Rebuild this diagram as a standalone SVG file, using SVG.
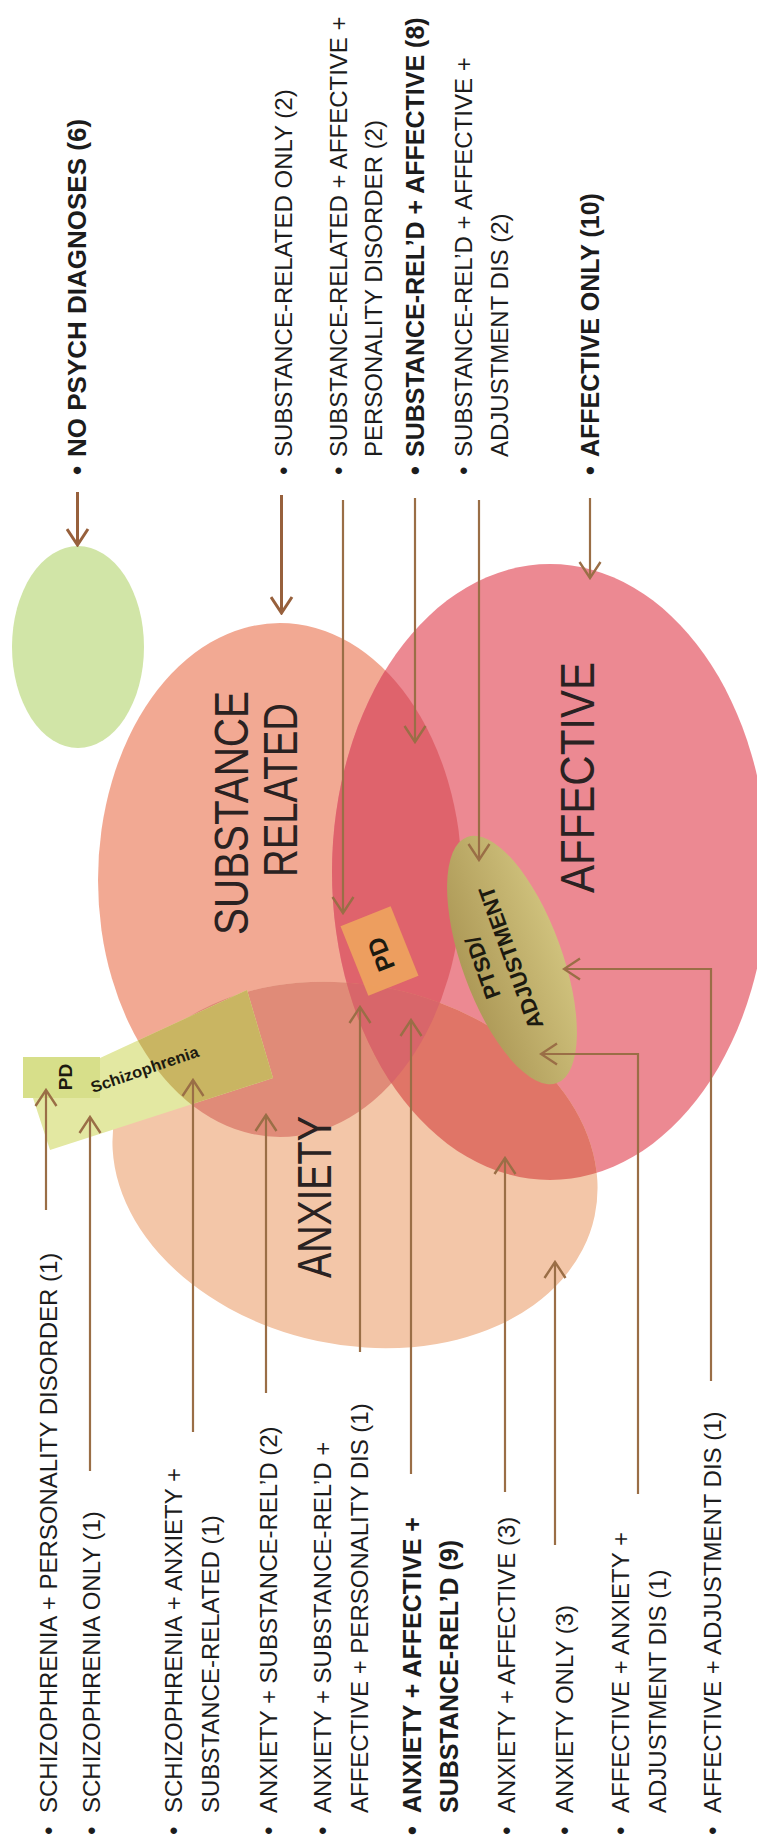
<svg xmlns="http://www.w3.org/2000/svg" width="757" height="1845" viewBox="0 0 757 1845">
<defs>
<style>
.t{font-family:"Liberation Sans",Arial,sans-serif;font-size:24px;fill:#1c1c1c}
.b{font-weight:bold;font-size:25px}
.lab{font-family:"Liberation Sans",Arial,sans-serif;font-size:48px;fill:#2a2222}
.sm{font-family:"Liberation Sans",Arial,sans-serif;font-weight:bold;fill:#1c1a10}
.ln{fill:none;stroke:#9a6e46;stroke-width:2.2}
.lnb{fill:none;stroke:#97603c;stroke-width:3}
</style>
<marker id="ah" viewBox="0 0 20 24" refX="18" refY="12" markerWidth="20" markerHeight="24" markerUnits="userSpaceOnUse" orient="auto">
<path d="M2,1.5 L18,12 L2,22.5" fill="none" stroke="#9a6e46" stroke-width="2.4"/>
</marker>
<marker id="ahb" viewBox="0 0 20 24" refX="18" refY="12" markerWidth="20" markerHeight="24" markerUnits="userSpaceOnUse" orient="auto">
<path d="M2,1.5 L18,12 L2,22.5" fill="none" stroke="#97603c" stroke-width="3"/>
</marker>
<linearGradient id="gp" x1="0" y1="0" x2="1" y2="0">
<stop offset="0" stop-color="#ae9a58"/>
<stop offset="1" stop-color="#cfc17c"/>
</linearGradient>
<ellipse id="eS" cx="280" cy="880" rx="182" ry="257"/>
<ellipse id="eA" cx="550" cy="872" rx="218" ry="308"/>
<ellipse id="eX" cx="355" cy="1165" rx="245" ry="180" transform="rotate(12 355 1165)"/>
<clipPath id="cS"><use href="#eS"/></clipPath>
<clipPath id="cA"><use href="#eA"/></clipPath>
</defs>
<rect width="757" height="1845" fill="#ffffff"/>

<g id="no-psych">
<ellipse cx="78" cy="647" rx="66" ry="101" fill="#d1e5a7"/>
</g>
<g id="substance">
<use href="#eS" fill="#f2a993"/>
</g>
<g id="affective">
<use href="#eA" fill="#ec8992"/>
</g>
<g id="anxiety">
<use href="#eX" fill="#f3c6a8"/>
</g>
<g id="overlaps">
<g clip-path="url(#cS)"><use href="#eA" fill="#df636c"/></g>
<g clip-path="url(#cS)"><use href="#eX" fill="#e08b78"/></g>
<g clip-path="url(#cA)"><use href="#eX" fill="#e07567"/></g>
<g clip-path="url(#cS)"><g clip-path="url(#cA)"><use href="#eX" fill="#d8666a"/></g></g>
</g>
<g id="region-labels">
<text class="lab" transform="translate(248,935) rotate(-90)" textLength="244" lengthAdjust="spacingAndGlyphs">SUBSTANCE</text>
<text class="lab" transform="translate(297,877) rotate(-90)" textLength="174" lengthAdjust="spacingAndGlyphs">RELATED</text>
<text class="lab" transform="translate(594,893) rotate(-90)" textLength="231" lengthAdjust="spacingAndGlyphs">AFFECTIVE</text>
<text class="lab" transform="translate(331,1278) rotate(-90)" textLength="162" lengthAdjust="spacingAndGlyphs">ANXIETY</text>
</g>
<g id="ptsd">
<ellipse cx="512" cy="960" rx="50" ry="131" transform="rotate(-20 512 960)" fill="url(#gp)"/>
<text class="sm" font-size="22" text-anchor="middle" transform="translate(490,965) rotate(-110)">PTSD/</text>
<text class="sm" font-size="22" text-anchor="middle" transform="translate(518,955) rotate(-110)">ADJUSTMENT</text>
</g>
<g id="pd">
<rect x="-27" y="-37.5" width="54" height="75" transform="translate(379.5,951) rotate(-21.8)" fill="#eea35e" opacity="0.93"/>
<text class="sm" font-size="25" text-anchor="middle" transform="translate(389,951) rotate(-111.8)">PD</text>
</g>
<g id="schizophrenia">
<polygon points="100,1058 247,990 273,1078 50,1150 33,1098" fill="#e3e8a2"/>
<polygon points="100,1058 247,990 273,1078 50,1150 33,1098" fill="#c9b562" clip-path="url(#cS)"/>
</g>
<g id="pd-small">
<rect x="23" y="1057" width="77" height="41" fill="#d7df8a"/>
<text class="sm" font-size="19" text-anchor="middle" transform="translate(72,1077) rotate(-90)">PD</text>
</g>
<text class="sm" font-size="16" transform="translate(93,1093) rotate(-19)" textLength="113" lengthAdjust="spacingAndGlyphs">Schizophrenia</text>

<g id="connectors">
<path class="lnb" d="M77.5,492 V545" marker-end="url(#ahb)"/>
<path class="lnb" d="M281.5,495 V613" marker-end="url(#ahb)"/>
<path class="ln" d="M343,500 V913" marker-end="url(#ah)"/>
<path class="ln" d="M415,498 V742" marker-end="url(#ah)"/>
<path class="ln" d="M479,500 V860" marker-end="url(#ah)"/>
<path class="ln" d="M590,498 V578" marker-end="url(#ah)"/>
<path class="ln" d="M46,1210 V1090" marker-end="url(#ah)"/>
<path class="ln" d="M90,1471 V1117" marker-end="url(#ah)"/>
<path class="ln" d="M193,1432 V1080" marker-end="url(#ah)"/>
<path class="ln" d="M266,1393 V1115" marker-end="url(#ah)"/>
<path class="ln" d="M360,1352 V1007" marker-end="url(#ah)"/>
<path class="ln" d="M411,1474 V1020" marker-end="url(#ah)"/>
<path class="ln" d="M505,1492 V1158" marker-end="url(#ah)"/>
<path class="ln" d="M555,1545 V1262" marker-end="url(#ah)"/>
<path class="ln" d="M638,1494 V1054 H541" marker-end="url(#ah)"/>
<path class="ln" d="M711,1381 V969 H564" marker-end="url(#ah)"/>
</g>

<g id="labels-top">
<text class="t b" font-size="26" style="font-size:26px" transform="translate(86,475) rotate(-90)"><tspan x="0">•</tspan><tspan x="18">NO PSYCH DIAGNOSES (6)</tspan></text>
<text class="t" transform="translate(292,475) rotate(-90)"><tspan x="0">•</tspan><tspan x="18">SUBSTANCE-RELATED ONLY (2)</tspan></text>
<text class="t" transform="translate(347,475) rotate(-90)"><tspan x="0">•</tspan><tspan x="18">SUBSTANCE-RELATED + AFFECTIVE +</tspan></text>
<text class="t" transform="translate(382,475) rotate(-90)" x="18">PERSONALITY DISORDER (2)</text>
<text class="t b" transform="translate(424,475) rotate(-90)"><tspan x="0">•</tspan><tspan x="18">SUBSTANCE-REL’D + AFFECTIVE (8)</tspan></text>
<text class="t" transform="translate(472,475) rotate(-90)"><tspan x="0">•</tspan><tspan x="18">SUBSTANCE-REL’D + AFFECTIVE +</tspan></text>
<text class="t" transform="translate(508,475) rotate(-90)" x="18">ADJUSTMENT DIS (2)</text>
<text class="t b" transform="translate(599,475) rotate(-90)"><tspan x="0">•</tspan><tspan x="18">AFFECTIVE ONLY (10)</tspan></text>
</g>

<g id="labels-bottom">
<text class="t" transform="translate(57,1835) rotate(-90)"><tspan x="0">•</tspan><tspan x="22">SCHIZOPHRENIA + PERSONALITY DISORDER (1)</tspan></text>
<text class="t" transform="translate(100,1835) rotate(-90)"><tspan x="0">•</tspan><tspan x="22">SCHIZOPHRENIA ONLY (1)</tspan></text>
<text class="t" transform="translate(182,1835) rotate(-90)"><tspan x="0">•</tspan><tspan x="22">SCHIZOPHRENIA + ANXIETY +</tspan></text>
<text class="t" transform="translate(219,1835) rotate(-90)" x="22">SUBSTANCE-RELATED (1)</text>
<text class="t" transform="translate(277,1835) rotate(-90)"><tspan x="0">•</tspan><tspan x="22">ANXIETY + SUBSTANCE-REL’D (2)</tspan></text>
<text class="t" transform="translate(331,1835) rotate(-90)"><tspan x="0">•</tspan><tspan x="22">ANXIETY + SUBSTANCE-REL’D +</tspan></text>
<text class="t" transform="translate(368,1835) rotate(-90)" x="22">AFFECTIVE + PERSONALITY DIS (1)</text>
<text class="t b" transform="translate(421,1835) rotate(-90)"><tspan x="0">•</tspan><tspan x="22">ANXIETY + AFFECTIVE +</tspan></text>
<text class="t b" transform="translate(458,1835) rotate(-90)" x="22">SUBSTANCE-REL’D (9)</text>
<text class="t" transform="translate(515,1835) rotate(-90)"><tspan x="0">•</tspan><tspan x="22">ANXIETY + AFFECTIVE (3)</tspan></text>
<text class="t" transform="translate(573,1835) rotate(-90)"><tspan x="0">•</tspan><tspan x="22">ANXIETY ONLY (3)</tspan></text>
<text class="t" transform="translate(629,1835) rotate(-90)"><tspan x="0">•</tspan><tspan x="22">AFFECTIVE + ANXIETY +</tspan></text>
<text class="t" transform="translate(666,1835) rotate(-90)" x="22">ADJUSTMENT DIS (1)</text>
<text class="t" transform="translate(721,1835) rotate(-90)"><tspan x="0">•</tspan><tspan x="22">AFFECTIVE + ADJUSTMENT DIS (1)</tspan></text>
</g>
</svg>
